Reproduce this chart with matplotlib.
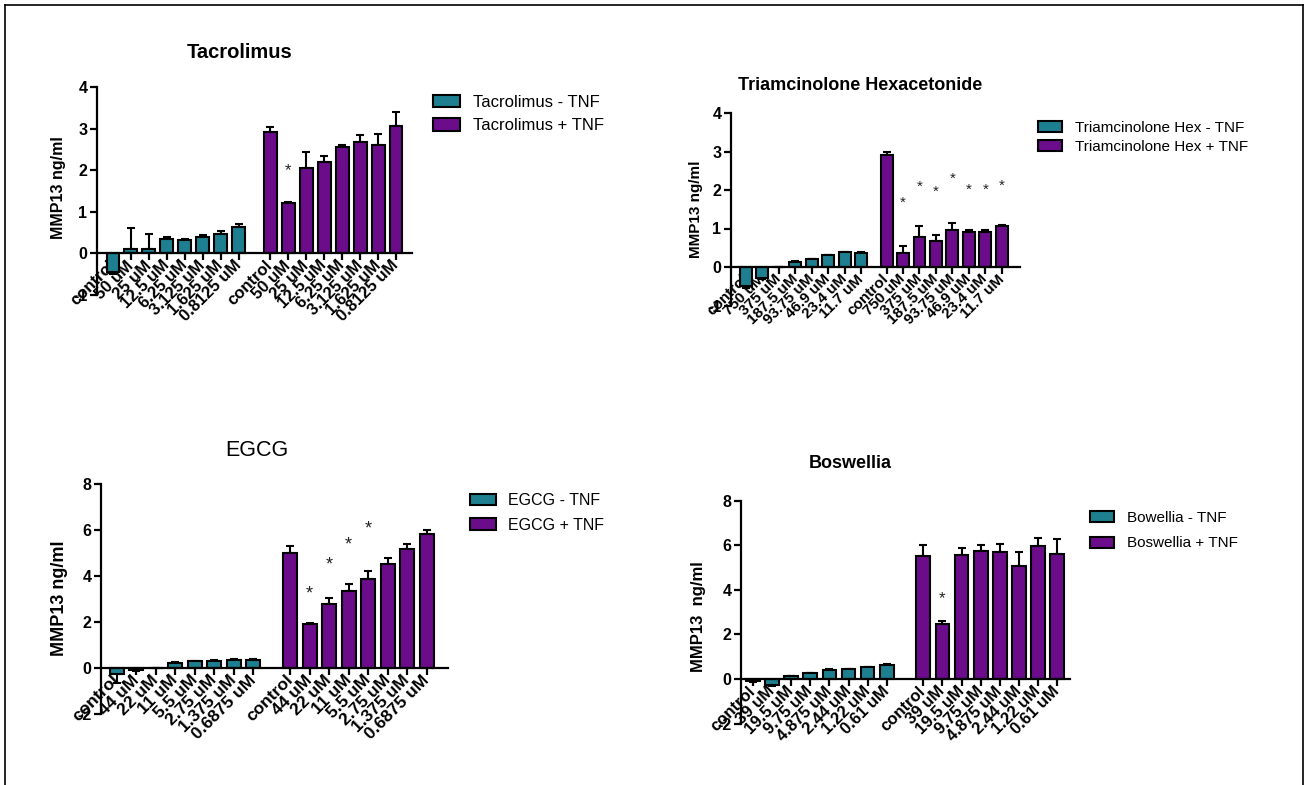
import numpy as np
import matplotlib.pyplot as plt
from matplotlib.patches import Patch
from matplotlib.lines import Line2D

plt.rcParams['font.family'] = ['Liberation Sans', 'DejaVu Sans']
plt.rcParams['axes.unicode_minus'] = False

TEAL = '#1d7f8f'
PURPLE = '#6b0c8b'
W, H = 1308, 785

# Tacrolimus
tac_doses = ['control', '50 uM', '25 uM', '12.5 uM', '6.25 uM', '3.125 uM', '1.625 uM', '0.8125 uM']
tac_minus = [-0.45, 0.10, 0.10, 0.35, 0.33, 0.40, 0.47, 0.63]
tac_minus_err = [0.05, 0.50, 0.36, 0.05, 0.02, 0.05, 0.08, 0.08]
tac_plus = [2.93, 1.20, 2.05, 2.20, 2.55, 2.67, 2.60, 3.07]
tac_plus_err = [0.11, 0.03, 0.38, 0.13, 0.06, 0.17, 0.26, 0.34]
tac_stars = {1: 1.98}

# Triamcinolone hexacetonide
tri_doses = ['control', '750 uM', '375 uM', '187.5 uM', '93.75 uM', '46.9 uM', '23.4 uM', '11.7 uM']
tri_minus = [-0.50, -0.28, 0.01, 0.13, 0.20, 0.30, 0.38, 0.37]
tri_minus_err = [0.05, 0.02, 0.0, 0.02, 0.02, 0.02, 0.02, 0.02]
tri_plus = [2.90, 0.37, 0.78, 0.67, 0.95, 0.90, 0.92, 1.06]
tri_plus_err = [0.09, 0.18, 0.28, 0.15, 0.18, 0.06, 0.03, 0.02]
tri_stars = {1: 1.68, 2: 2.08, 3: 1.96, 4: 2.28, 5: 2.0, 6: 2.0, 7: 2.12}

# EGCG
egcg_doses = ['control', '44 uM', '22 uM', '11 uM', '5.5 uM', '2.75 uM', '1.375 uM', '0.6875 uM']
egcg_minus = [-0.28, -0.10, 0.0, 0.22, 0.29, 0.32, 0.35, 0.35]
egcg_minus_err = [0.37, 0.05, 0.0, 0.02, 0.02, 0.02, 0.02, 0.02]
egcg_plus = [5.00, 1.93, 2.80, 3.36, 3.86, 4.54, 5.19, 5.84]
egcg_plus_err = [0.32, 0.02, 0.24, 0.28, 0.34, 0.24, 0.20, 0.17]
egcg_stars = {1: 3.23, 2: 4.49, 3: 5.36, 4: 6.04}

# Boswellia
bos_doses = ['control', '39 uM', '19.5 uM', '9.75 uM', '4.875 uM', '2.44 uM', '1.22 uM', '0.61 uM']
bos_minus = [-0.10, -0.28, 0.12, 0.26, 0.42, 0.43, 0.53, 0.65]
bos_minus_err = [0.05, 0.02, 0.03, 0.02, 0.02, 0.02, 0.02, 0.02]
bos_plus = [5.50, 2.45, 5.57, 5.76, 5.70, 5.05, 5.95, 5.60]
bos_plus_err = [0.50, 0.17, 0.30, 0.27, 0.37, 0.65, 0.39, 0.66]
bos_stars = {1: 3.62}


def px_rect(x0, x1, ytop, ybot):
    return [x0 / W, 1 - ybot / H, (x1 - x0) / W, (ybot - ytop) / H]


def draw_bars(ax, x, vals, errs, color):
    ax.bar(x, vals, width=0.72, color=color, edgecolor='black', linewidth=1.5, zorder=2)
    vals = np.asarray(vals)
    errs = np.asarray(errs)
    lower = np.where(vals < 0, errs, 0)
    upper = np.where(vals < 0, 0, errs)
    ax.errorbar(x, vals, yerr=[lower, upper], fmt='none', ecolor='black',
                elinewidth=1.5, capsize=3, capthick=1.5, zorder=1)


def panel(rect, doses, minus, minus_err, plus, plus_err, stars, gap, xlim, ylim, ystep,
          tick_fs, star_fs):
    ax = fig.add_axes(rect)
    # x axis sits on y = 0; moving the spine resets the ticks, so do it first
    ax.spines['bottom'].set_position(('data', 0))
    ax.spines['top'].set_visible(False)
    ax.spines['right'].set_visible(False)
    for s in ('left', 'bottom'):
        ax.spines[s].set_linewidth(1.6)

    xm = np.arange(len(doses))
    xp = gap + np.arange(len(doses))
    draw_bars(ax, xm, minus, minus_err, TEAL)
    draw_bars(ax, xp, plus, plus_err, PURPLE)
    for i, y in stars.items():
        ax.text(xp[i], y, '*', ha='center', va='center', fontsize=star_fs, color='#222222')

    ax.set_xlim(*xlim)
    ax.set_ylim(*ylim)
    ax.tick_params(axis='both', length=5, width=1.6, direction='out', pad=2)
    yt = list(range(ylim[0], ylim[1] + 1, ystep))
    ax.set_yticks(yt)
    ax.set_yticklabels([str(v) for v in yt], fontweight='bold', fontsize=11.5)
    ax.set_xticks(np.concatenate([xm, xp]))
    ax.set_xticklabels(doses + doses, rotation=45, ha='right', va='center',
                       rotation_mode='anchor', fontweight='bold', fontsize=tick_fs)
    ax.patch.set_alpha(0)
    return ax


def legend(labels, x, y, fs, spacing):
    handles = [Patch(facecolor=TEAL, edgecolor='black', linewidth=1.5),
               Patch(facecolor=PURPLE, edgecolor='black', linewidth=1.5)]
    fig.legend(handles, labels, loc='upper left', bbox_to_anchor=(x / W, 1 - y / H),
               frameon=False, fontsize=fs, borderpad=0, borderaxespad=0,
               handlelength=1.6, handleheight=0.75, handletextpad=0.8,
               labelspacing=spacing)


fig = plt.figure(figsize=(W / 100, H / 100), dpi=100)

panel(px_rect(97, 412, 87, 295), tac_doses, tac_minus, tac_minus_err, tac_plus,
      tac_plus_err, tac_stars, 8.75, (-0.89, 16.64), (-1, 4), 1, 12, 12)
panel(px_rect(731, 1020, 113, 305.5), tri_doses, tri_minus, tri_minus_err, tri_plus,
      tri_plus_err, tri_stars, 8.55, (-0.91, 16.66), (-1, 4), 1, 11, 11)
panel(px_rect(101, 448, 484, 714), egcg_doses, egcg_minus, egcg_minus_err, egcg_plus,
      egcg_plus_err, egcg_stars, 8.9, (-0.82, 17.0), (-2, 8), 2, 12.5, 13)
panel(px_rect(741, 1070, 500.7, 723.6), bos_doses, bos_minus, bos_minus_err, bos_plus,
      bos_plus_err, bos_stars, 8.92, (-0.63, 16.6), (-2, 8), 2, 12, 12)

# titles
fig.text(240 / W, 1 - 53 / H, 'Tacrolimus', ha='center', va='center', fontsize=14.5, fontweight='bold')
fig.text(860 / W, 1 - 85 / H, 'Triamcinolone Hexacetonide', ha='center', va='center', fontsize=13, fontweight='bold')
fig.text(257 / W, 1 - 450 / H, 'EGCG', ha='center', va='center', fontsize=15.5)
fig.text(850 / W, 1 - 463 / H, 'Boswellia', ha='center', va='center', fontsize=13, fontweight='bold')

# y labels
fig.text(58 / W, 1 - 188 / H, 'MMP13 ng/ml', rotation=90, ha='center', va='center', fontsize=11.5, fontweight='bold')
fig.text(696 / W, 1 - 209 / H, 'MMP13 ng/ml', rotation=90, ha='center', va='center', fontsize=11, fontweight='bold')
fig.text(60 / W, 1 - 598 / H, 'MMP13 ng/ml', rotation=90, ha='center', va='center', fontsize=13, fontweight='bold')
fig.text(698 / W, 1 - 617 / H, 'MMP13  ng/ml', rotation=90, ha='center', va='center', fontsize=12, fontweight='bold')

legend(['Tacrolimus - TNF', 'Tacrolimus + TNF'], 433, 95, 12, 0.5)
legend(['Triamcinolone Hex - TNF', 'Triamcinolone Hex + TNF'], 1038, 121, 11, 0.3)
legend(['EGCG - TNF', 'EGCG + TNF'], 470, 493, 11.5, 0.6)
legend(['Bowellia - TNF', 'Boswellia + TNF'], 1090, 511, 11, 0.75)

# outer frame
for xs, ys in [((5, 1303), (5, 5)), ((5, 5), (5, 785)), ((1303, 1303), (5, 785))]:
    fig.add_artist(Line2D([x / W for x in xs], [1 - y / H for y in ys], color='black', linewidth=1.2))

fig.savefig('out.png', dpi=100)
